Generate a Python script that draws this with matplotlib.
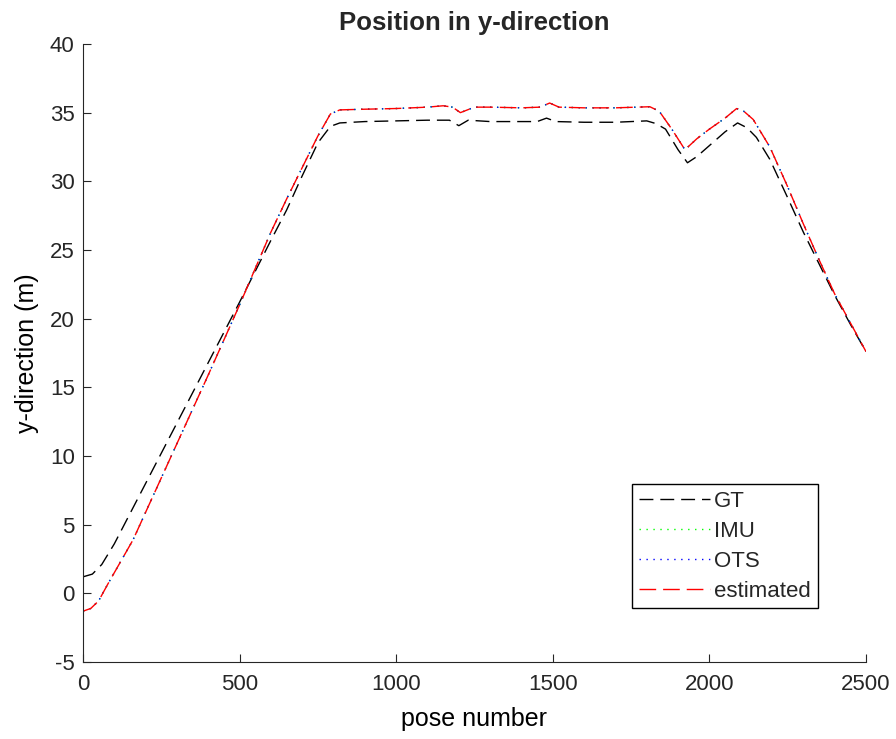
import matplotlib
matplotlib.use("Agg")
import matplotlib.pyplot as plt

plt.rcParams.update({
    "font.family": "Liberation Sans",
    "axes.edgecolor": "#262626",
    "text.color": "#262626",
    "xtick.color": "#262626",
    "ytick.color": "#262626",
    "axes.unicode_minus": False,
})

# ground truth trajectory (pose number, y in m)
gt_x = [0, 30, 60, 100, 200, 300, 400, 500, 600, 650, 700, 750, 790, 820,
        900, 1000, 1100, 1170, 1200, 1230, 1300, 1400, 1450, 1480, 1510,
        1600, 1700, 1800, 1830, 1860, 1900, 1930, 1960, 2000, 2050, 2090,
        2120, 2150, 2193, 2250, 2300, 2350, 2400, 2450, 2500]
gt_y = [1.2, 1.4, 2.1, 3.6, 8.0, 12.4, 16.8, 21.2, 25.7, 27.9, 30.4, 32.8,
        34.0, 34.25, 34.35, 34.4, 34.45, 34.45, 34.05, 34.45, 34.35, 34.35,
        34.35, 34.6, 34.35, 34.3, 34.3, 34.4, 34.2, 33.8, 32.3, 31.35, 31.8,
        32.6, 33.6, 34.25, 33.9, 33.2, 31.6, 28.8, 26.3, 24.0, 21.7, 19.6, 17.6]

# estimated trajectory (IMU and OTS coincide with it)
est_x = [0, 25, 50, 80, 160, 300, 400, 500, 600, 650, 700, 750, 790, 820,
         900, 1000, 1100, 1150, 1180, 1205, 1250, 1300, 1400, 1460, 1490,
         1520, 1600, 1700, 1810, 1840, 1880, 1922, 1960, 2000, 2050, 2087,
         2110, 2140, 2193, 2250, 2300, 2350, 2400, 2450, 2500]
est_y = [-1.3, -1.1, -0.55, 0.7, 3.9, 10.9, 15.9, 21.0, 26.3, 28.7, 31.0,
         33.3, 34.9, 35.2, 35.25, 35.3, 35.4, 35.5, 35.4, 35.0, 35.4, 35.4,
         35.35, 35.4, 35.7, 35.4, 35.35, 35.35, 35.43, 35.1, 33.8, 32.3, 33.1,
         33.8, 34.6, 35.3, 35.1, 34.5, 32.5, 29.6, 26.9, 24.3, 21.8, 19.7, 17.6]
imu_y = est_y
ots_y = est_y

fig = plt.figure(figsize=(8.96, 7.39), dpi=100)
ax = fig.add_axes([0.0926, 0.1042, 0.8739, 0.8363])

ax.plot(gt_x, gt_y, color="black", lw=1.0, dashes=(10, 5), label="GT")
ax.plot(est_x, imu_y, color="#00ff00", lw=1.0, dashes=(1, 4), label="IMU")
ax.plot(est_x, ots_y, color="blue", lw=1.0, dashes=(1, 4), label="OTS")
ax.plot(est_x, est_y, color="red", lw=1.0, dashes=(12, 5), label="estimated")

ax.set_xlim(0, 2500)
ax.set_ylim(-5, 40)
ax.set_xticks(range(0, 2501, 500))
ax.set_yticks(range(-5, 41, 5))
ax.spines["top"].set_visible(False)
ax.spines["right"].set_visible(False)
ax.tick_params(direction="in", length=6, labelsize=16)
ax.tick_params(axis="x", pad=9)
ax.tick_params(axis="y", pad=6)

ax.set_title("Position in y-direction", fontsize=18.5, fontweight="bold", pad=10)
ax.set_xlabel("pose number", fontsize=18, labelpad=8)
ax.set_ylabel("y-direction (m)", fontsize=18, labelpad=8)

leg = ax.legend(loc="lower left", bbox_to_anchor=(0.701, 0.087),
                borderaxespad=0, fontsize=16, handlelength=3.2,
                handletextpad=0.2, labelspacing=0.4, borderpad=0.3,
                fancybox=False, framealpha=1, edgecolor="black")
leg.get_frame().set_linewidth(1.0)

fig.savefig("out.png", dpi=100)
